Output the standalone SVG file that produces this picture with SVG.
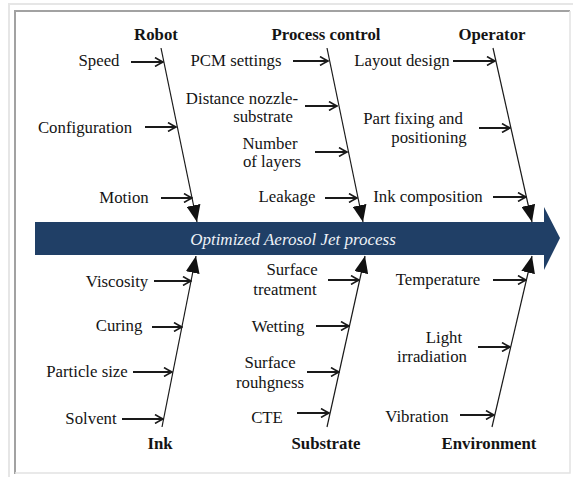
<svg xmlns="http://www.w3.org/2000/svg" width="573" height="477" viewBox="0 0 573 477">
<style>
  text { font-family: 'Liberation Serif', 'Times New Roman', serif; font-size: 16.8px; fill: #141414; text-anchor: middle; }
  .cat { font-weight: bold; }
  .banner-text { font-style: italic; font-size: 17px; fill: #eef2f7; }
  .spine { stroke: #1a1a1a; stroke-width: 1.2; fill: none; marker-end: url(#head); }
  .cause { stroke: #1a1a1a; stroke-width: 2; fill: none; marker-end: url(#open); }
</style>
<defs>
  <marker id="head" viewBox="0 0 17 14" refX="17" refY="7" markerWidth="17" markerHeight="14" markerUnits="userSpaceOnUse" orient="auto">
    <path d="M0,0 L17,7 L0,14 z" fill="#111"/>
  </marker>
  <marker id="open" viewBox="0 0 10 10" refX="9" refY="5" markerWidth="10" markerHeight="10" markerUnits="userSpaceOnUse" orient="auto">
    <path d="M1,0.5 Q5,3 9,5 Q5,7 1,9.5" fill="none" stroke="#1a1a1a" stroke-width="1.6"/>
  </marker>
</defs>
<rect x="0" y="0" width="573" height="477" fill="#ffffff"/>
<g id="frame">
  <path d="M9,477 V4 H573" fill="none" stroke="#e6e6e6" stroke-width="2"/>
  <path d="M15,474 V11 H570" fill="none" stroke="#a2a2a2" stroke-width="2"/>
  <path d="M570,11 V473 H15" fill="none" stroke="#e2e2e2" stroke-width="1.5"/>
</g>
<g id="banner">
  <path d="M35,222 H544 V207 L560,238 L544,270 V255 H35 z" fill="#203f66"/>
  <text class="banner-text" x="293" y="245">Optimized Aerosol Jet process</text>
</g>
<g id="connectors">
  <line class="spine" x1="161" y1="48" x2="197" y2="222"/>
  <line class="spine" x1="327" y1="48" x2="363" y2="222"/>
  <line class="spine" x1="493" y1="48" x2="532" y2="222"/>
  <line class="spine" x1="162" y1="427" x2="196" y2="256"/>
  <line class="spine" x1="327" y1="427" x2="365" y2="256"/>
  <line class="spine" x1="492" y1="427" x2="532" y2="256"/>
  <line class="cause" x1="131" y1="62" x2="163" y2="62"/>
  <line class="cause" x1="145" y1="127" x2="176" y2="127"/>
  <line class="cause" x1="161" y1="198" x2="192" y2="198"/>
  <line class="cause" x1="293" y1="61" x2="328" y2="61"/>
  <line class="cause" x1="305" y1="106" x2="337" y2="106"/>
  <line class="cause" x1="315" y1="152" x2="347" y2="152"/>
  <line class="cause" x1="325" y1="198" x2="357" y2="198"/>
  <line class="cause" x1="453" y1="61" x2="495" y2="61"/>
  <line class="cause" x1="479" y1="128" x2="510" y2="128"/>
  <line class="cause" x1="493" y1="197" x2="526" y2="197"/>
  <line class="cause" x1="154" y1="281" x2="191" y2="281"/>
  <line class="cause" x1="152" y1="327" x2="182" y2="327"/>
  <line class="cause" x1="133" y1="372" x2="172" y2="372"/>
  <line class="cause" x1="122" y1="419" x2="163" y2="419"/>
  <line class="cause" x1="328" y1="280" x2="359" y2="280"/>
  <line class="cause" x1="316" y1="326" x2="349" y2="326"/>
  <line class="cause" x1="307" y1="372" x2="339" y2="372"/>
  <line class="cause" x1="297" y1="413" x2="329" y2="413"/>
  <line class="cause" x1="493" y1="280" x2="526" y2="280"/>
  <line class="cause" x1="478" y1="347" x2="510" y2="347"/>
  <line class="cause" x1="460" y1="415" x2="494" y2="415"/>
</g>
<g id="robot">
  <text class="cat" x="156" y="40">Robot</text>
  <text x="99" y="66">Speed</text>
  <text x="85" y="133">Configuration</text>
  <text x="124" y="203">Motion</text>
</g>
<g id="process-control">
  <text class="cat" x="326" y="40">Process control</text>
  <text x="236" y="66">PCM settings</text>
  <text x="242" y="104">Distance nozzle-</text>
  <text x="263" y="122">substrate</text>
  <text x="270" y="149">Number</text>
  <text x="272" y="167">of layers</text>
  <text x="287" y="202">Leakage</text>
</g>
<g id="operator">
  <text class="cat" x="492" y="40">Operator</text>
  <text x="402" y="66">Layout design</text>
  <text x="413" y="124">Part fixing and</text>
  <text x="429" y="143">positioning</text>
  <text x="428" y="202">Ink composition</text>
</g>
<g id="ink">
  <text class="cat" x="160" y="449">Ink</text>
  <text x="117" y="287">Viscosity</text>
  <text x="119" y="331">Curing</text>
  <text x="87" y="377">Particle size</text>
  <text x="91" y="424">Solvent</text>
</g>
<g id="substrate">
  <text class="cat" x="326" y="449">Substrate</text>
  <text x="292" y="275">Surface</text>
  <text x="285" y="295">treatment</text>
  <text x="278" y="332">Wetting</text>
  <text x="270" y="368">Surface</text>
  <text x="270" y="388">rouhgness</text>
  <text x="267" y="423">CTE</text>
</g>
<g id="environment">
  <text class="cat" x="489" y="449">Environment</text>
  <text x="438" y="285">Temperature</text>
  <text x="444" y="343">Light</text>
  <text x="432" y="362">irradiation</text>
  <text x="417" y="422">Vibration</text>
</g>
</svg>
